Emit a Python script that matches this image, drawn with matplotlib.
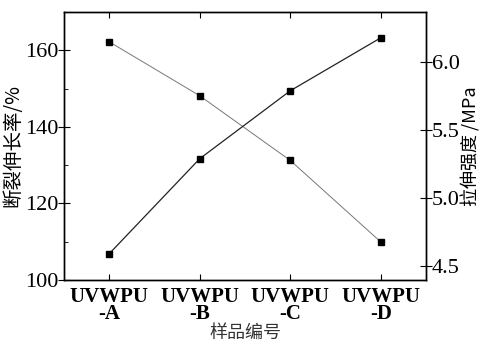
import matplotlib
matplotlib.use("Agg")
import matplotlib.pyplot as plt
from matplotlib.ticker import MultipleLocator

plt.rcParams["font.family"] = ["Liberation Serif", "Noto Sans CJK SC"]

SAMPLES = ["UVWPU\n-A", "UVWPU\n-B", "UVWPU\n-C", "UVWPU\n-D"]
ELONGATION = [162.2, 148.1, 131.2, 109.9]   # %
TENSILE = [4.59, 5.29, 5.79, 6.18]           # MPa

CJK = ["Noto Sans CJK SC", "Liberation Serif"]

fig = plt.figure(figsize=(4.81, 3.41), dpi=100)
ax = fig.add_axes([0.133, 0.179, 0.753, 0.786])
ax2 = ax.twinx()

x = list(range(len(SAMPLES)))
ax.plot(x, ELONGATION, color="#777777", lw=0.7, marker="s", ms=4,
        mfc="black", mec="black")
ax2.plot(x, TENSILE, color="#222222", lw=0.9, marker="s", ms=4,
         mfc="black", mec="black")

ax.set_xlim(-0.5, 3.5)
ax.set_ylim(100, 170)
ax2.set_ylim(4.397, 6.37)

ax.set_xticks(x)
ax.set_xticklabels(SAMPLES, fontsize=15, fontweight="bold", linespacing=0.8)
ax.yaxis.set_major_locator(MultipleLocator(20))
ax.yaxis.set_minor_locator(MultipleLocator(10))
ax2.yaxis.set_major_locator(MultipleLocator(0.5))

ax.tick_params(axis="y", which="major", direction="inout", length=8,
               labelsize=16, pad=0)
ax.tick_params(axis="y", which="minor", direction="in", length=3)
ax.tick_params(axis="x", direction="in", length=4, top=True, labelsize=15,
               pad=5)
ax2.tick_params(axis="y", which="major", direction="inout", length=8,
                labelsize=16, pad=0)

for a in (ax, ax2):
    for s in a.spines.values():
        s.set_linewidth(1.0)

ax.set_ylabel("断裂伸长率/%", family=CJK, fontsize=14, labelpad=1)
ax2.set_ylabel("拉伸强度 /MPa", family=CJK, fontsize=13, labelpad=1)
ax.set_xlabel("样品编号", family=CJK, fontsize=13, labelpad=0,
              color="#333333")

fig.savefig("out.png", dpi=100, facecolor="white")
